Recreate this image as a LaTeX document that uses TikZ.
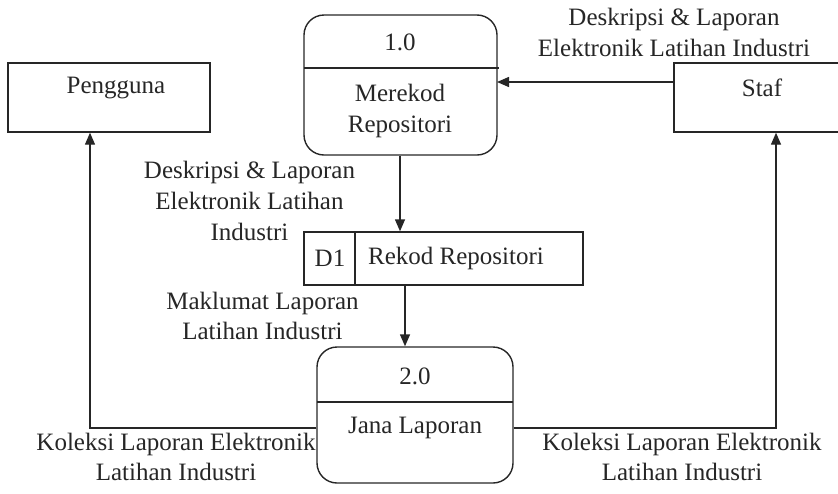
\documentclass[tikz,border=0pt]{standalone}
\usepackage{fontspec}
\setmainfont{Liberation Serif}
\usetikzlibrary{arrows.meta}
\begin{document}
\begin{tikzpicture}[x=0.5pt,y=-0.5pt,
  every node/.style={font=\fontsize{12.5pt}{15.3pt}\selectfont, text=black!85, inner sep=0pt},
  ext/.style={draw=black!85, line width=0.7pt, rectangle},
  proc/.style={draw=black!85, line width=0.7pt, rounded corners=10pt},
  lbl/.style={align=center},
  flow/.style={draw=black!85, line width=0.7pt, -{Triangle[length=6pt,width=5pt]}},
  rule/.style={draw=black!85, line width=0.6pt}]
\useasboundingbox (0,0) rectangle (838,493);
% externals
\node[ext, minimum width=101pt, minimum height=34.5pt] (peng) at (109,97.5) {};
\node (pengt) at (116,88) {Pengguna};
\node[ext, minimum width=90pt, minimum height=34.5pt] (staf) at (764,97.5) {};
\node (staft) at (762,88) {Staf};
% process 1.0
\node[proc, minimum width=96.5pt, minimum height=70pt] (p1) at (400.5,85) {};
\coordinate (p1l) at (304,68);
\coordinate (p1r) at (499,68);
\draw[rule] (p1l) -- (p1r);
\node (p1n) at (400,42) {1.0};
\node[lbl] (p1t) at (400,111) {Merekod\\Repositori};
% store D1
\node[ext, minimum width=139.5pt, minimum height=26.5pt] (d1) at (443.5,258.5) {};
\coordinate (d1a) at (355,232);
\coordinate (d1b) at (355,285);
\draw[rule] (d1a) -- (d1b);
\node (d1n) at (330,258) {D1};
\node (d1t) at (456,258) {Rekod Repositori};
% process 2.0
\node[proc, minimum width=98pt, minimum height=68pt] (p2) at (415,415) {};
\coordinate (p2l) at (317,402);
\coordinate (p2r) at (513,402);
\draw[rule] (p2l) -- (p2r);
\node (p2n) at (415,376) {2.0};
\node (p2t) at (415,428) {Jana Laporan};
% flows
\coordinate (sa) at (674,82);
\coordinate (sb) at (497,82);
\draw[flow] (sa) -- (sb);
\draw[flow] (p1.south -| 400,0) -- (d1.north -| 400,0);
\draw[flow] (d1.south -| 405,0) -- (p2.north -| 405,0);
\coordinate (lc) at (90,428);
\coordinate (rc) at (776,428);
\draw[flow] (p2.west |- 0,428) -- (lc) -- (peng.south -| lc);
\draw[flow] (p2.east |- 0,428) -- (rc) -- (staf.south -| rc);
% labels
\node[lbl] (l1) at (674,32.5) {Deskripsi \& Laporan\\Elektronik Latihan Industri};
\node[lbl] (l2) at (249.5,201) {Deskripsi \& Laporan\\Elektronik Latihan\\Industri};
\node[lbl] (l3) at (262.5,316) {Maklumat Laporan\\Latihan Industri};
\node[lbl] (l4) at (176,457) {Koleksi Laporan Elektronik\\Latihan Industri};
\node[lbl] (l5) at (682,457) {Koleksi Laporan Elektronik\\Latihan Industri};
\end{tikzpicture}
\end{document}
